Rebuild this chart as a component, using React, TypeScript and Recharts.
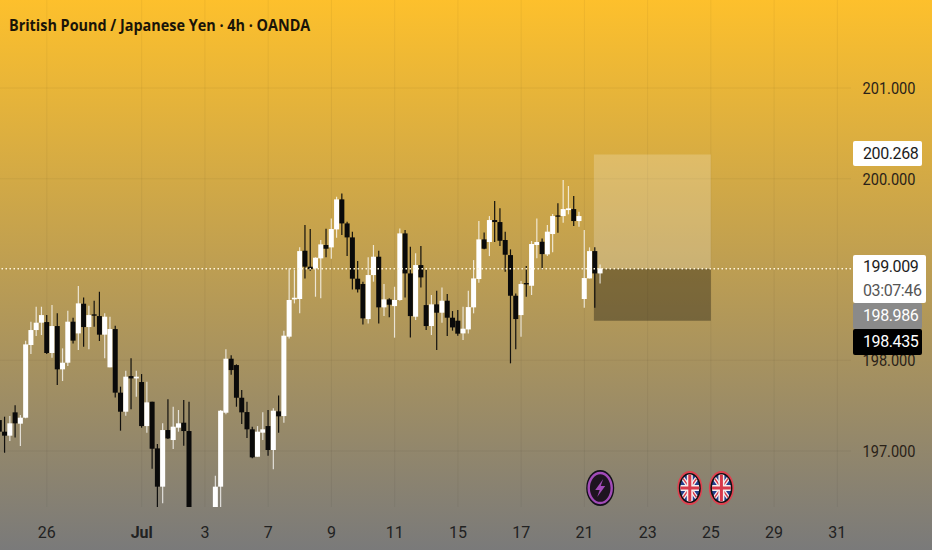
import React from 'react';
import {
  ComposedChart,
  Bar,
  XAxis,
  YAxis,
  CartesianGrid,
  ReferenceArea,
  ReferenceLine,
  ReferenceDot,
} from 'recharts';

// GBP/JPY 4h candles, oldest first
const opens = [
  197.341, 197.213, 197.169, 197.426, 197.301, 197.367, 198.168, 198.333, 198.414, 198.421,
  198.08, 198.377, 197.9, 197.973, 198.425, 198.296, 198.623, 198.366, 198.506, 198.487,
  198.282, 197.922, 198.344, 197.643, 197.433, 197.826, 197.8, 197.76, 197.275, 197.543,
  197.029, 196.607, 197.231, 197.121, 197.257, 197.312, 197.22, 196.2, 196.05, 196.1,
  196.0, 196.2, 196.607, 197.422, 198.017, 197.947, 197.587, 197.429, 197.239, 196.937,
  197.202, 197.275, 197.011, 197.437, 197.385, 198.26, 198.671, 198.675, 199.207, 199.031,
  199.013, 199.123, 199.27, 199.244, 199.442, 199.773, 199.508, 199.354, 198.899, 198.84,
  198.454, 198.939, 199.141, 198.583, 198.671, 198.597, 198.664, 199.398, 198.957, 198.48,
  199.049, 198.608, 198.377, 198.616, 198.524, 198.656, 198.469, 198.436, 198.296, 198.34,
  198.583, 198.895, 199.332, 199.303, 199.545, 199.523, 199.325, 199.159, 198.711, 198.498,
  198.851, 198.821, 199.27, 199.306, 199.167, 199.391, 199.596, 199.589, 199.655, 199.666,
  199.534, 198.675, 198.902, 199.203, 198.957,
];
const highs = [
  197.598, 197.378, 197.385, 197.503, 197.396, 198.216, 198.425, 198.59, 198.59, 198.498,
  198.609, 198.517, 198.131, 198.546, 198.469, 198.818, 198.693, 198.601, 198.656, 198.755,
  198.517, 198.48, 198.381, 197.709, 197.885, 198.021, 197.885, 197.848, 197.764, 197.543,
  197.077, 197.305, 197.569, 197.488, 197.452, 197.562, 197.543, 196.3, 196.2, 196.25,
  196.3, 196.728, 197.452, 198.12, 198.054, 197.955, 197.672, 197.543, 197.268, 197.275,
  197.426, 197.452, 197.47, 197.613, 198.326, 199.013, 198.994, 199.244, 199.49, 199.446,
  199.134, 199.325, 199.45, 199.563, 199.802, 199.839, 199.527, 199.417, 199.093, 198.866,
  199.134, 199.27, 199.207, 198.84, 198.682, 198.81, 199.453, 199.435, 199.251, 199.178,
  199.259, 198.994, 198.719, 198.766, 198.803, 198.73, 198.542, 198.553, 198.59, 198.766,
  199.104, 199.534, 199.409, 199.589, 199.754, 199.674, 199.417, 199.222, 198.737, 198.873,
  199.038, 199.314, 199.563, 199.343, 199.49, 199.611, 199.729, 199.986, 199.92, 199.81,
  199.637, 199.435, 199.244, 199.244, 199.056,
];
const lows = [
  197.176, 196.981, 197.11, 197.15, 197.055, 197.36, 198.069, 198.267, 198.278, 198.069,
  198.028, 197.727, 197.771, 197.936, 198.186, 198.113, 198.149, 198.12, 198.37, 198.212,
  198.021, 197.922, 197.591, 197.224, 197.389, 197.459, 197.598, 197.257, 197.202, 196.805,
  196.35, 196.423, 197.132, 197.022, 197.213, 197.059, 196.1, 196.0, 195.9, 195.95,
  195.9, 196.1, 196.2, 197.404, 197.841, 197.488, 197.297, 197.143, 196.919, 196.937,
  197.121, 196.948, 196.798, 197.202, 197.312, 198.241, 198.627, 198.517, 198.902, 198.987,
  198.7, 198.682, 199.134, 199.119, 199.35, 199.38, 199.148, 198.781, 198.748, 198.395,
  198.406, 198.866, 198.406, 198.487, 198.473, 198.249, 198.656, 198.693, 198.252, 198.443,
  198.803, 198.333, 198.278, 198.113, 198.414, 198.267, 198.326, 198.271, 198.223, 198.296,
  198.517, 198.855, 199.222, 199.148, 199.303, 199.259, 198.976, 197.966, 198.12, 198.26,
  198.7, 198.719, 199.123, 199.001, 199.148, 199.189, 199.405, 199.516, 199.608, 199.479,
  199.472, 198.579, 198.902, 198.579, 198.847,
];
const closes = [
  197.213, 197.169, 197.305, 197.305, 197.367, 198.175, 198.333, 198.414, 198.498, 198.08,
  198.377, 197.9, 197.973, 198.425, 198.216, 198.627, 198.366, 198.498, 198.491, 198.282,
  198.48, 198.344, 197.643, 197.433, 197.819, 197.8, 197.819, 197.275, 197.536, 197.025,
  196.607, 197.231, 197.139, 197.268, 197.305, 197.22, 196.2, 196.05, 196.1, 196.0,
  196.2, 196.607, 197.444, 198.017, 197.892, 197.587, 197.426, 197.239, 196.93, 197.213,
  197.239, 197.011, 197.444, 197.382, 198.271, 198.664, 198.689, 199.203, 199.031, 199.005,
  199.13, 199.277, 199.229, 199.446, 199.773, 199.508, 199.354, 198.899, 198.781, 198.462,
  198.939, 199.141, 198.583, 198.671, 198.612, 198.664, 199.398, 198.957, 198.487, 199.049,
  198.913, 198.377, 198.616, 198.524, 198.656, 198.469, 198.362, 198.293, 198.348, 198.586,
  198.902, 199.332, 199.229, 199.545, 199.523, 199.317, 199.163, 198.711, 198.454, 198.84,
  198.836, 199.281, 199.303, 199.17, 199.417, 199.589, 199.582, 199.666, 199.674, 199.534,
  199.589, 198.906, 199.203, 198.957, 199.013,
];

const dayTicks = [9, 27, 39, 51, 63, 75, 87, 99, 111, 123, 135, 147, 159];
const dayLabels = ['26', 'Jul', '3', '7', '9', '11', '15', '17', '21', '23', '25', '29', '31'];
const priceTicks = [197, 198, 200, 201];
const gridPrices = [197, 198, 199, 200, 201];

const lastPrice = 199.009;
const targetPrice = 200.268;
const stopPrice = 198.435;
const positionStart = 112.8;
const positionEnd = 135;

const eventSlots = [114, 131, 137];
const eventKinds = ['bolt', 'flag', 'flag'];
const eventPrice = 196.592;

const candles = opens.map((open, k) => ({
  k,
  open,
  high: highs[k],
  low: lows[k],
  close: closes[k],
}));

const FONT = 'Roboto, sans-serif';
const X_DOMAIN = [0.108, 161.59];
const Y_DOMAIN = [196.383, 201.97];

const Candle = (props: any) => {
  const { x, y, width, height, payload } = props;
  const h = Math.abs(height);
  const span = payload.high - payload.low;
  const at = (p: number) => y + ((payload.high - p) / span) * h;
  const up = payload.close >= payload.open;
  const top = at(Math.max(payload.open, payload.close));
  const bottom = at(Math.min(payload.open, payload.close));
  const color = up ? '#ffffff' : '#0a0a0a';
  const cx = x + width / 2;
  return (
    <g>
      <line
        x1={cx}
        x2={cx}
        y1={y}
        y2={y + h}
        stroke={color}
        strokeWidth={1.2}
        strokeOpacity={up ? 0.75 : 0.95}
      />
      <rect x={x} y={top} width={width} height={Math.max(bottom - top, 1.2)} fill={color} />
    </g>
  );
};

const DayTick = ({ x, y, payload }: any) => {
  const label = dayLabels[dayTicks.indexOf(payload.value)];
  return (
    <text
      x={x}
      y={y + 23}
      textAnchor="middle"
      fontFamily={FONT}
      fontSize={16}
      fontWeight={label === 'Jul' ? 700 : 400}
      fill="#222222"
    >
      {label}
    </text>
  );
};

const PriceTick = ({ x, y, payload }: any) => (
  <text
    x={x + 11.5}
    y={y + 6}
    fontFamily={FONT}
    fontSize={16}
    fill="#2a2218"
    textLength={53}
    lengthAdjust="spacingAndGlyphs"
  >
    {payload.value.toFixed(3)}
  </text>
);

const EventIcon = (props: any) => {
  const { cx, cy, kind, slot } = props;
  if (kind === 'bolt') {
    return (
      <g>
        <ellipse cx={cx} cy={cy} rx={14} ry={18} fill="#14101a" />
        <ellipse cx={cx} cy={cy} rx={11.5} ry={15} fill="#1e1420" stroke="#a24bb8" strokeWidth={2.4} />
        <path
          d={`M${cx + 3} ${cy - 9} L${cx - 5} ${cy + 2} L${cx - 0.5} ${cy + 2} L${cx - 3} ${cy + 9} L${cx + 5} ${cy - 2} L${cx + 0.5} ${cy - 2} Z`}
          fill="#a24bb8"
        />
      </g>
    );
  }
  const id = `flag-${slot}`;
  return (
    <g>
      <defs>
        <clipPath id={id}>
          <ellipse cx={cx} cy={cy} rx={9.5} ry={13.5} />
        </clipPath>
      </defs>
      <ellipse cx={cx} cy={cy} rx={12.5} ry={17} fill="#e0404f" />
      <ellipse cx={cx} cy={cy} rx={11} ry={15} fill="#111111" />
      <g clipPath={`url(#${id})`}>
        <rect x={cx - 10} y={cy - 14} width={20} height={28} fill="#233f8e" />
        <path
          d={`M${cx - 10} ${cy - 14} L${cx + 10} ${cy + 14} M${cx + 10} ${cy - 14} L${cx - 10} ${cy + 14}`}
          stroke="#f4eeee"
          strokeWidth={4}
        />
        <path
          d={`M${cx - 10} ${cy - 14} L${cx + 10} ${cy + 14} M${cx + 10} ${cy - 14} L${cx - 10} ${cy + 14}`}
          stroke="#d8394a"
          strokeWidth={1.4}
        />
        <path d={`M${cx} ${cy - 14} V${cy + 14} M${cx - 10} ${cy} H${cx + 10}`} stroke="#f4eeee" strokeWidth={6} />
        <path d={`M${cx} ${cy - 14} V${cy + 14} M${cx - 10} ${cy} H${cx + 10}`} stroke="#d8394a" strokeWidth={3} />
      </g>
    </g>
  );
};

const tagStyle = (top: number, height: number, background: string, width = 69): React.CSSProperties => ({
  position: 'absolute',
  left: 853,
  top,
  width,
  height,
  background,
  borderRadius: 2,
  fontFamily: FONT,
  fontSize: 16,
  lineHeight: `${height}px`,
  paddingLeft: 10,
  boxSizing: 'border-box',
  letterSpacing: -0.4,
});

export default function App() {
  return (
    <div
      style={{
        position: 'absolute',
        left: 0,
        top: 0,
        width: 932,
        height: 550,
        overflow: 'hidden',
        background: 'linear-gradient(to bottom, #fdc02c 0%, #7a7a7a 100%)',
      }}
    >
      <ComposedChart
        width={932}
        height={550}
        data={candles}
        margin={{ top: 0, right: 0, bottom: 0, left: 0 }}
      >
        <CartesianGrid
          stroke="#000000"
          strokeOpacity={0.05}
          horizontalValues={gridPrices}
          verticalValues={dayTicks}
        />
        <XAxis
          dataKey="k"
          type="number"
          domain={X_DOMAIN}
          allowDataOverflow
          ticks={dayTicks}
          interval={0}
          height={43}
          axisLine={false}
          tickLine={false}
          tick={DayTick}
        />
        <YAxis
          orientation="right"
          type="number"
          domain={Y_DOMAIN}
          allowDataOverflow
          ticks={priceTicks}
          interval={0}
          width={81}
          axisLine={false}
          tickLine={false}
          tickSize={0}
          tickMargin={0}
          tick={PriceTick}
        />
        <ReferenceArea
          x1={positionStart}
          x2={positionEnd}
          y1={lastPrice}
          y2={targetPrice}
          fill="#ffffff"
          fillOpacity={0.2}
          stroke="none"
        />
        <ReferenceArea
          x1={positionStart}
          x2={positionEnd}
          y1={stopPrice}
          y2={lastPrice}
          fill="#000000"
          fillOpacity={0.33}
          stroke="none"
        />
        <Bar
          dataKey={(d: any) => [d.low, d.high]}
          barSize={5}
          shape={<Candle />}
          isAnimationActive={false}
        />
        <ReferenceLine y={lastPrice} stroke="#fff6dc" strokeWidth={1.4} strokeDasharray="1.5 2.5" />
        {eventSlots.map((slot, n) => (
          <ReferenceDot
            key={slot}
            x={slot}
            y={eventPrice}
            shape={(p: any) => <EventIcon {...p} kind={eventKinds[n]} slot={slot} />}
          />
        ))}
      </ComposedChart>
      <div
        style={{
          position: 'absolute',
          left: 9,
          top: 13,
          fontFamily: '"Open Sans", sans-serif',
          fontWeight: 700,
          fontSize: 16,
          lineHeight: '24px',
          color: '#1a1408',
          whiteSpace: 'nowrap',
          transform: 'scaleX(0.9)',
          transformOrigin: 'left center',
        }}
      >
        British Pound / Japanese Yen · 4h · OANDA
      </div>
      <div style={{ ...tagStyle(141, 25, '#ffffff'), color: '#1c1c1c' }}>{targetPrice.toFixed(3)}</div>
      <div style={{ ...tagStyle(255, 24, '#ffffff', 73), color: '#1c1c1c', borderRadius: '2px 2px 0 0' }}>
        {lastPrice.toFixed(3)}
      </div>
      <div style={{ ...tagStyle(279, 24, '#ffffff', 73), color: '#555555', borderRadius: '0 0 2px 2px' }}>03:07:46</div>
      <div style={{ ...tagStyle(303, 26, '#8a8a8a'), color: '#ffffff' }}>198.986</div>
      <div style={{ ...tagStyle(329, 26, '#000000'), color: '#ffffff' }}>{stopPrice.toFixed(3)}</div>
    </div>
  );
}
